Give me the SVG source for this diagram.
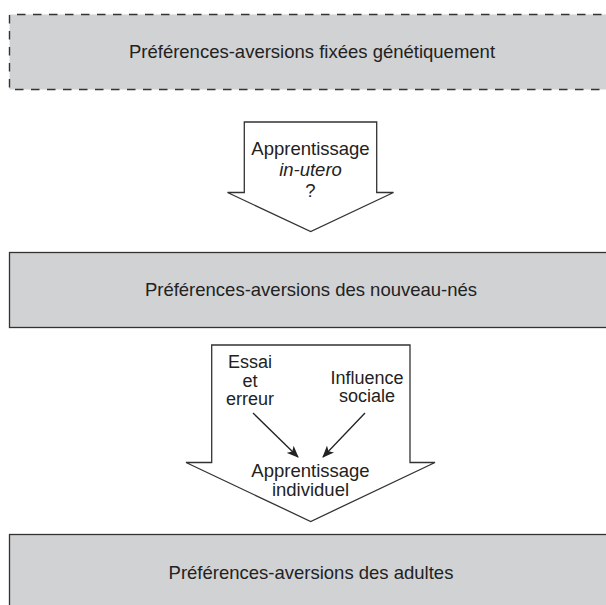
<svg xmlns="http://www.w3.org/2000/svg" width="606" height="605" viewBox="0 0 606 605">
<style>
.box{fill:#d1d2d4;stroke:#333;stroke-width:1.3}
.dash{fill:none;stroke:#333;stroke-width:1.4;stroke-dasharray:8.5 7.5}
.arrow{fill:#fff;stroke:#333;stroke-width:1.3;stroke-linejoin:miter}
.t{font-family:"Liberation Sans",Arial,Helvetica,sans-serif;font-size:18.5px;fill:#222;text-anchor:middle}
.s{font-size:18px}
.it{font-style:italic}
.con{stroke:#222;stroke-width:1.3;fill:none}
</style>
<defs>
<marker id="ah" viewBox="0 0 12 10" refX="11" refY="5" markerWidth="12" markerHeight="10" markerUnits="userSpaceOnUse" orient="auto">
<path d="M0,0 L12,5 L0,10 L3,5 Z" fill="#222"/>
</marker>
</defs>
<rect width="606" height="605" fill="#fff"/>
<g id="node-genetique">
<rect x="9.5" y="14.5" width="610" height="75" fill="#d1d2d4"/>
<line class="dash" x1="17" y1="14.5" x2="620" y2="14.5"/>
<line class="dash" x1="9.5" y1="15" x2="9.5" y2="89"/>
<line class="dash" x1="15" y1="89.5" x2="620" y2="89.5"/>
<text class="t" x="312" y="58">Préférences-aversions fixées génétiquement</text>
</g>
<g id="node-inutero">
<polygon class="arrow" points="244.3,122 376.7,122 376.7,192.5 393.5,192.5 310.7,231.5 227.5,192.5 244.3,192.5"/>
<text class="t" x="310.5" y="155">Apprentissage<tspan class="it" x="310.5" dy="21">in-utero</tspan><tspan x="310.5" dy="21">?</tspan></text>
</g>
<g id="node-nouveaunes">
<rect class="box" x="9.5" y="252.5" width="610" height="75"/>
<text class="t" x="311" y="296">Préférences-aversions des nouveau-nés</text>
</g>
<g id="node-individuel">
<polygon class="arrow" points="211.7,345 410,345 410,462.5 435,462.5 310.7,521.5 186,462.5 211.7,462.5"/>
<text class="t s" x="250" y="368">Essai<tspan x="250" dy="18.6">et</tspan><tspan x="250" dy="18.6">erreur</tspan></text>
<text class="t s" x="367" y="383.5">Influence<tspan x="367" dy="18.6">sociale</tspan></text>
<text class="t" x="310.5" y="477">Apprentissage<tspan x="310.5" dy="19">individuel</tspan></text>
</g>
<g id="node-adultes">
<rect class="box" x="9.5" y="534.5" width="610" height="80"/>
<text class="t" x="311" y="579">Préférences-aversions des adultes</text>
</g>
<g id="connectors">
<line class="con" x1="253" y1="413" x2="298" y2="457" marker-end="url(#ah)"/>
<line class="con" x1="365" y1="413" x2="323" y2="457" marker-end="url(#ah)"/>
</g>
</svg>
